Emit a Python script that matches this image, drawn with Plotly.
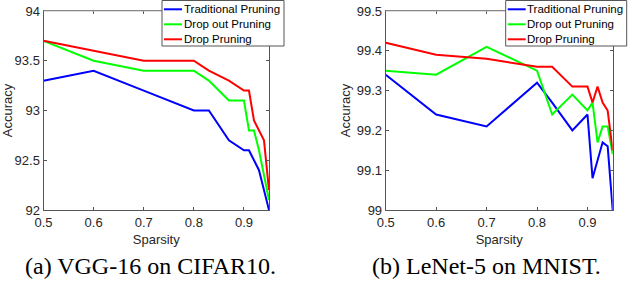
import plotly.graph_objects as go

W, H = 628, 284

# ---- data: VGG-16 on CIFAR10 ----
vgg_trad_x = [0.5, 0.6, 0.7, 0.8, 0.83, 0.87, 0.9, 0.91, 0.93, 0.95]
vgg_trad_y = [93.3, 93.4, 93.2, 93.0, 93.0, 92.7, 92.6, 92.6, 92.4, 92.0]
vgg_drop_x = [0.5, 0.6, 0.7, 0.8, 0.83, 0.87, 0.9, 0.91, 0.92, 0.93, 0.95]
vgg_drop_y = [93.7, 93.5, 93.4, 93.4, 93.3, 93.1, 93.1, 92.8, 92.8, 92.6, 92.1]
vgg_dp_x = [0.5, 0.6, 0.7, 0.8, 0.83, 0.87, 0.9, 0.91, 0.92, 0.94, 0.95]
vgg_dp_y = [93.7, 93.6, 93.5, 93.5, 93.4, 93.3, 93.2, 93.2, 92.9, 92.7, 92.2]

# ---- data: LeNet-5 on MNIST ----
le_trad_x = [0.5, 0.6, 0.7, 0.8, 0.83, 0.87, 0.9, 0.91, 0.93, 0.94, 0.95]
le_trad_y = [99.34, 99.24, 99.21, 99.32, 99.27, 99.20, 99.24, 99.08, 99.17, 99.16, 99.0]
le_drop_x = [0.5, 0.6, 0.7, 0.8, 0.83, 0.87, 0.9, 0.91, 0.92, 0.93, 0.94, 0.95]
le_drop_y = [99.35, 99.34, 99.41, 99.35, 99.24, 99.29, 99.25, 99.27, 99.17, 99.21, 99.21, 99.14]
le_dp_x = [0.5, 0.6, 0.7, 0.8, 0.83, 0.87, 0.9, 0.91, 0.92, 0.93, 0.94, 0.95]
le_dp_y = [99.42, 99.39, 99.38, 99.36, 99.36, 99.31, 99.31, 99.27, 99.31, 99.27, 99.25, 99.15]

series_names = ["Traditional Pruning", "Drop out Pruning", "Drop Pruning"]
series_colors = ["#0000FF", "#00FF00", "#FF0000"]

x_ticks = [0.5, 0.6, 0.7, 0.8, 0.9]
x_tick_labels = ["0.5", "0.6", "0.7", "0.8", "0.9"]
vgg_y_ticks = [92, 92.5, 93, 93.5, 94]
vgg_y_labels = ["92", "92.5", "93", "93.5", "94"]
le_y_ticks = [99, 99.1, 99.2, 99.3, 99.4, 99.5]
le_y_labels = ["99", "99.1", "99.2", "99.3", "99.4", "99.5"]

captions = ["(a) VGG-16 on CIFAR10.", "(b) LeNet-5 on MNIST."]

fig = go.Figure()
left = [(vgg_trad_x, vgg_trad_y), (vgg_drop_x, vgg_drop_y), (vgg_dp_x, vgg_dp_y)]
right = [(le_trad_x, le_trad_y), (le_drop_x, le_drop_y), (le_dp_x, le_dp_y)]
for (xs, ys), name, c in zip(left, series_names, series_colors):
    fig.add_trace(go.Scatter(x=xs, y=ys, mode="lines", name=name,
                             line=dict(color=c, width=2), xaxis="x", yaxis="y",
                             showlegend=False))
for (xs, ys), name, c in zip(right, series_names, series_colors):
    fig.add_trace(go.Scatter(x=xs, y=ys, mode="lines", name=name,
                             line=dict(color=c, width=2), xaxis="x2", yaxis="y2",
                             showlegend=False))

def px(x):
    return x / W

def py(y):
    return 1 - y / H

ax_font = dict(family="Liberation Sans, Arial, sans-serif", size=13, color="#262626")
common_x = dict(range=[0.5, 0.95], tickvals=x_ticks, ticktext=x_tick_labels,
                showgrid=False, zeroline=False, showline=True, linecolor="#555555",
                linewidth=1, mirror="ticks", ticks="inside", ticklen=3, tickcolor="#555555",
                tickfont=ax_font, automargin=False,
                title=dict(text="Sparsity", font=ax_font, standoff=6))
common_y = dict(showgrid=False, zeroline=False, showline=True, linecolor="#555555",
                linewidth=1, mirror="ticks", ticks="inside", ticklen=3, tickcolor="#555555",
                tickfont=ax_font, automargin=False,
                title=dict(text="Accuracy", font=ax_font, standoff=3))

y_dom = [py(210), py(11)]
fig.update_layout(
    width=W, height=H, margin=dict(l=0, r=0, t=0, b=0, autoexpand=False),
    paper_bgcolor="white", plot_bgcolor="white", showlegend=False,
    xaxis=dict(domain=[px(43.5), px(269)], anchor="y", **common_x),
    yaxis=dict(domain=y_dom, anchor="x", range=[92, 94], tickvals=vgg_y_ticks,
               ticktext=vgg_y_labels, **common_y),
    xaxis2=dict(domain=[px(385.7), px(612.7)], anchor="y2", **common_x),
    yaxis2=dict(domain=y_dom, anchor="x2", range=[99, 99.5], tickvals=le_y_ticks,
                ticktext=le_y_labels, **common_y),
)

shapes = []
annotations = []
for x0, x1 in [(43.5, 269), (385.7, 612.7)]:
    shapes.append(dict(type="line", xref="paper", yref="paper", x0=px(x0), x1=px(x1),
                       y0=py(11), y1=py(11), line=dict(color="#BBBBBB", width=1)))

# custom legends
leg_font = dict(family="Liberation Sans, Arial, sans-serif", size=11.5, color="black")
for bx0, bx1 in [(162, 284), (505.7, 626.7)]:
    shapes.append(dict(type="rect", xref="paper", yref="paper", x0=px(bx0), x1=px(bx1),
                       y0=py(46), y1=py(0.5), line=dict(color="#555555", width=1),
                       fillcolor="white", layer="above"))
    for i, (name, c) in enumerate(zip(series_names, series_colors)):
        yy = 9.3 + 15 * i
        shapes.append(dict(type="line", xref="paper", yref="paper", x0=px(bx0 + 2),
                           x1=px(bx0 + 20), y0=py(yy), y1=py(yy),
                           line=dict(color=c, width=2), layer="above"))
        annotations.append(dict(text=name, xref="paper", yref="paper", x=px(bx0 + 19.5),
                                y=py(yy), xanchor="left", yanchor="middle",
                                showarrow=False, font=leg_font))

cap_font = dict(family="Liberation Serif, Times New Roman, serif", size=24, color="black")
for cx, cap in zip([150.5, 486.5], captions):
    annotations.append(dict(text=cap, xref="paper", yref="paper", x=px(cx), y=py(266),
                            xanchor="center", yanchor="middle", showarrow=False,
                            font=cap_font))

fig.update_layout(shapes=shapes, annotations=annotations)
fig.write_html("out.html", config={"displayModeBar": False},
               post_script="document.body.style.margin='0px';document.body.style.overflow='hidden';")
